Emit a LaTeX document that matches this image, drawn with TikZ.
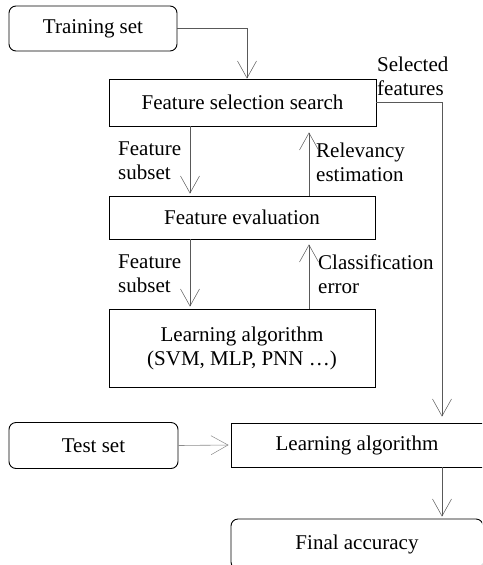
\documentclass[tikz,border=0pt]{standalone}
\usepackage{fontspec}
\setmainfont{Liberation Serif}
\usetikzlibrary{arrows.meta}
\begin{document}
\begin{tikzpicture}[x=1pt,y=-1pt,
  font=\fontsize{21}{24}\selectfont,
  box/.style={draw=black,line width=0.9pt,inner sep=0pt,align=center},
  rbox/.style={box,rounded corners=7pt},
  lbl/.style={inner sep=0pt,align=left,anchor=west},
  conn/.style={draw=black!65,line width=0.6pt,-{Straight Barb[length=17pt,width=19pt,line width=0.5pt]}}
]
\useasboundingbox (0,0) rectangle (482,565);
\clip (0,0) rectangle (482,565);
\fill[white] (0,0) rectangle (482,565);
\coordinate (xa) at (190,0);
\coordinate (xb) at (309,0);
\coordinate (xc) at (247,0);
\coordinate (xd) at (442,0);

\node[rbox,minimum width=168pt,minimum height=45pt] (train) at (93,28.5) {Training set};
\node[box,minimum width=267pt,minimum height=47pt] (fss) at (242.5,102.5) {Feature selection search};
\node[box,minimum width=266pt,minimum height=43pt] (fe) at (242,217.5) {Feature evaluation};
\node[box,minimum width=266pt,minimum height=78pt] (la) at (242,348) {Learning algorithm\\(SVM, MLP, PNN \ldots)};
\node[rbox,minimum width=169pt,minimum height=46pt] (test) at (93.5,445.5) {Test set};
\node[box,minimum width=252pt,minimum height=44pt] (la2) at (357,445) {Learning algorithm};
\node[rbox,minimum width=252pt,minimum height=50pt] (fa) at (357,544) {Final accuracy};

\node[lbl] (lsel) at (377,76) {Selected\\features};
\node[lbl] (lfs1) at (118,161) {Feature\\subset};
\node[lbl] (lrel) at (316,162) {Relevancy\\estimation};
\node[lbl] (lfs2) at (118,274) {Feature\\subset};
\node[lbl] (lcls) at (318,274) {Classification\\error};

\draw[conn] (train.east) -| (fss.north -| xc);
\draw[conn,shorten >=2pt] (fss.south -| xa) -- (fe.north -| xa);
\draw[conn,shorten >=6pt] (fe.north -| xb) -- (fss.south -| xb);
\draw[conn,shorten >=2pt] (fe.south -| xa) -- (la.north -| xa);
\draw[conn,shorten >=5pt] (la.north -| xb) -- (fe.south -| xb);
\draw[conn,shorten >=6pt] (fss.east) -| (la2.north -| xd);
\draw[conn,draw=black!45,shorten >=2pt] (test.east) -- (la2.west);
\draw[conn,shorten >=2pt] (la2.south -| xd) -- (fa.north -| xd);
\end{tikzpicture}
\end{document}
